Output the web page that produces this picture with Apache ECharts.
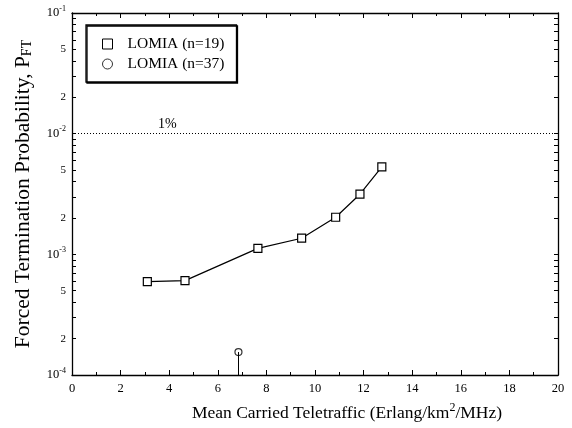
<!DOCTYPE html>
<html>
<head>
<meta charset="utf-8">
<script src="https://cdn.jsdelivr.net/npm/echarts@6/dist/echarts.min.js"></script>
<style>
  html, body { margin: 0; padding: 0; background: #fff; }
  #chart { width: 572px; height: 428px; }
</style>
</head>
<body>
<div id="chart"></div>
<script>
// Forced termination probability vs. carried teletraffic
const seriesNames = ['LOMIA (n=19)', 'LOMIA (n=37)'];
const trafficA = [3.1, 4.65, 7.65, 9.45, 10.85, 11.85, 12.75];
const pftA = [5.95e-4, 6.05e-4, 1.12e-3, 1.36e-3, 2.03e-3, 3.15e-3, 5.3e-3];
const trafficB = [6.85];
const pftB = [1.55e-4];
const thresholdValue = 0.01;
const thresholdLabel = '1%';
const yLabelValues = [1e-4, 2e-4, 5e-4, 1e-3, 2e-3, 5e-3, 1e-2, 2e-2, 5e-2, 1e-1];
const yTickValues = [];
[1e-4, 1e-3, 1e-2].forEach(d => { for (let k = 1; k < 10; k++) yTickValues.push(+(d * k).toPrecision(3)); });
yTickValues.push(1e-1);

const FONT = '"Liberation Serif", "Times New Roman", serif';

function yLabel(v) {
  const e = Math.round(Math.log10(v));
  if (Math.abs(v - Math.pow(10, e)) < 1e-12) return '{b|10}{s|' + e + '}';
  return '{m|' + Math.round(v / Math.pow(10, Math.floor(Math.log10(v) + 1e-9))) + '}';
}

const chart = echarts.init(document.getElementById('chart'), null, { renderer: 'canvas' });

// frame lines stay on the grid edges
const frameLine = () => ({ show: true, onZero: false, lineStyle: { color: '#000', width: 1.3 } });
const xTick = () => ({ show: true, inside: true, length: 5, lineStyle: { color: '#000' } });
const xMinor = () => ({ show: true, splitNumber: 2, length: 3, lineStyle: { color: '#000' } });
const yTick = () => ({ show: true, inside: true, length: 4, customValues: yTickValues, lineStyle: { color: '#000' } });

chart.setOption({
  animation: false,
  backgroundColor: '#fff',
  textStyle: { fontFamily: FONT },
  grid: { left: 72, top: 13, right: 14, bottom: 53, containLabel: false },
  legend: {
    left: 86, top: 25,
    orient: 'vertical',
    itemWidth: 10, itemHeight: 10, itemGap: 4,
    padding: [11, 12, 10, 16],
    borderColor: '#000', borderWidth: 1.3,
    backgroundColor: '#fff',
    shadowColor: '#000', shadowOffsetX: 1, shadowOffsetY: 1, shadowBlur: 0,
    textStyle: { fontFamily: FONT, fontSize: 15.5, color: '#000', padding: [0, 0, 0, 10] },
    data: [
      { name: seriesNames[0], icon: 'rect', itemStyle: { color: '#fff', borderColor: '#000', borderWidth: 1 } },
      { name: seriesNames[1], icon: 'circle', itemStyle: { color: '#fff', borderColor: '#000', borderWidth: 1 } }
    ]
  },
  xAxis: [
    {
      type: 'value', min: 0, max: 20, interval: 2, position: 'bottom',
      axisLine: frameLine(),
      axisTick: xTick(),
      minorTick: xMinor(),
      splitLine: { show: false },
      axisLabel: { color: '#000', fontFamily: FONT, fontSize: 12.5, margin: 7 },
      name: 'Mean Carried Teletraffic (Erlang/km{sup|2}/MHz)',
      nameLocation: 'middle', nameGap: 27,
      nameTextStyle: {
        color: '#000', fontFamily: FONT, fontSize: 17.5, padding: [0, 0, 0, 64],
        rich: { sup: { fontSize: 12, fontFamily: FONT, color: '#000', padding: [0, 0, 10, 0] } }
      }
    },
    {
      type: 'value', min: 0, max: 20, interval: 2, position: 'top',
      axisLine: frameLine(),
      axisTick: xTick(),
      minorTick: xMinor(),
      splitLine: { show: false },
      axisLabel: { show: false }
    }
  ],
  yAxis: [
    {
      type: 'log', logBase: 10, min: 1e-4, max: 1e-1, position: 'left',
      axisLine: frameLine(),
      axisTick: yTick(),
      splitLine: { show: false },
      axisLabel: {
        color: '#000', fontFamily: FONT, margin: 6,
        customValues: yLabelValues,
        formatter: yLabel,
        rich: {
          b: { fontSize: 12.5, fontFamily: FONT, color: '#000' },
          s: { fontSize: 8, fontFamily: FONT, color: '#000', padding: [0, 0, 9, 0] },
          m: { fontSize: 11, fontFamily: FONT, color: '#000' }
        }
      },
      name: 'Forced Termination Probability, P{sub|FT}',
      nameLocation: 'middle', nameGap: 38,
      nameTextStyle: {
        color: '#000', fontFamily: FONT, fontSize: 21.5,
        rich: { sub: { fontSize: 14, fontFamily: FONT, color: '#000', padding: [8, 0, 0, 0] } }
      }
    },
    {
      type: 'log', logBase: 10, min: 1e-4, max: 1e-1, position: 'right',
      axisLine: frameLine(),
      axisTick: yTick(),
      splitLine: { show: false },
      axisLabel: { show: false }
    }
  ],
  series: [
    {
      name: seriesNames[0],
      type: 'line',
      xAxisIndex: 0, yAxisIndex: 0,
      data: trafficA.map((x, i) => [x, pftA[i]]),
      symbol: 'rect', symbolSize: 8,
      itemStyle: { color: '#fff', borderColor: '#000', borderWidth: 1.2 },
      lineStyle: { color: '#000', width: 1.2 },
      z: 3,
      markLine: {
        silent: true, symbol: 'none',
        lineStyle: { color: '#000', type: [1, 2], width: 1 },
        label: {
          show: true, position: 'insideStartTop', formatter: thresholdLabel,
          color: '#000', fontFamily: FONT, fontSize: 14, padding: [0, 0, 0, 84], distance: 2
        },
        data: [{ yAxis: thresholdValue }]
      }
    },
    {
      name: seriesNames[1],
      type: 'scatter',
      xAxisIndex: 0, yAxisIndex: 0,
      data: trafficB.map((x, i) => [x, pftB[i]]),
      symbol: 'circle', symbolSize: 7,
      itemStyle: { color: '#fff', borderColor: '#000', borderWidth: 1.2 },
      z: 4,
      markLine: {
        silent: true, symbol: 'none',
        lineStyle: { color: '#000', type: 'solid', width: 1 },
        label: { show: false },
        data: trafficB.map((x, i) => [{ coord: [x, pftB[i]] }, { coord: [x, 1e-4] }])
      }
    }
  ]
});
</script>
</body>
</html>
